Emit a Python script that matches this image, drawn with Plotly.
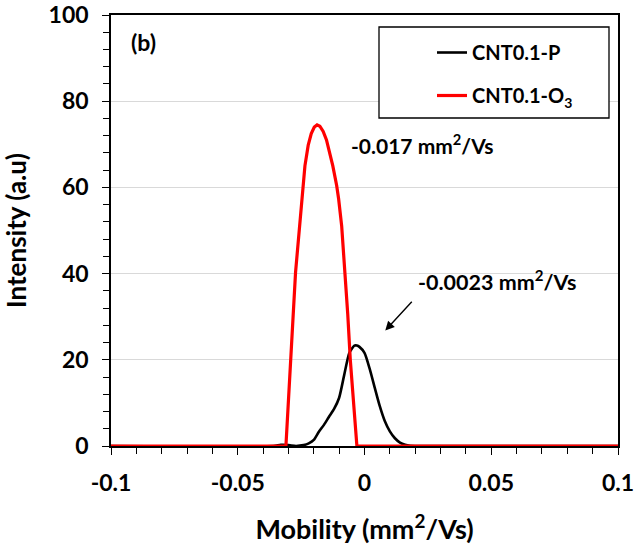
import plotly.graph_objects as go

# Data
p_x = [-0.1, -0.036, -0.033, -0.030, -0.027, -0.024, -0.022, -0.020, -0.018, -0.016, -0.014, -0.012,
       -0.010, -0.008, -0.006, -0.004, -0.003, -0.002, 0.0, 0.002, 0.004, 0.006, 0.008, 0.010,
       0.012, 0.014, 0.016, 0.018, 0.020, 0.1]
p_y = [0, 0, 0.25, 0.2, 0, 0.2, 0.6, 1.4, 3.3, 4.9, 6.8, 8.6,
       11.2, 16.5, 21.6, 23.3, 23.3, 23.0, 21.6, 18.0, 13.6, 9.3, 5.8, 3.4,
       1.8, 0.8, 0.3, 0.05, 0, 0]

o_x = [-0.1, -0.031, -0.0272, -0.0258, -0.0248, -0.0235, -0.0222, -0.0210, -0.0198, -0.0187,
       -0.0176, -0.0163, -0.0150, -0.0141, -0.0125, -0.0110, -0.0102, -0.0090, -0.0076, -0.0066,
       -0.0056, -0.0043, -0.0030, 0.1]
o_y = [0, 0, 40.3, 50.0, 57.3, 65.0, 69.8, 72.5, 74.0, 74.5,
       74.2, 73.0, 71.0, 69.0, 65.0, 60.5, 57.3, 51.0, 40.3, 30.5,
       20.0, 9.0, 0, 0]

FONT = "Lato"

fig = go.Figure()
fig.add_trace(go.Scatter(x=p_x, y=p_y, mode="lines", name="CNT0.1-P",
                         line=dict(color="black", width=2.6, shape="spline", smoothing=0.6),
                         legendgroup="a"))
fig.add_trace(go.Scatter(x=o_x, y=o_y, mode="lines", name="CNT0.1-O<sub>3</sub>",
                         line=dict(color="#ff0000", width=3.2),
                         legendgroup="b"))

axis_common = dict(showline=True, linecolor="black", linewidth=1.5, mirror=True,
                   ticks="outside", ticklen=7, tickwidth=1.2, tickcolor="black",
                   tickfont=dict(family=FONT, size=23, color="black", weight="bold"),
                   zeroline=False, automargin=False)

fig.update_xaxes(range=[-0.1, 0.1], tickvals=[-0.1, -0.05, 0, 0.05, 0.1],
                 ticktext=["-0.1", "-0.05", "0", "0.05", "0.1"], showgrid=False,
                 minor=dict(dtick=0.01, tick0=0, ticks="outside", ticklen=6, tickwidth=1.2,
                            tickcolor="black", showgrid=False),
                 ticklabelstandoff=9,
                 title=dict(text="Mobility (mm<sup>2</sup>/Vs)", standoff=25,
                            font=dict(family=FONT, size=27, color="black", weight="bold")),
                 **axis_common)
fig.update_yaxes(range=[0, 100], tickvals=[0, 20, 40, 60, 80, 100],
                 showgrid=True, gridcolor="#d9d9d9", gridwidth=1.2,
                 minor=dict(dtick=4, tick0=0, ticks="outside", ticklen=6, tickwidth=1.2,
                            tickcolor="black", showgrid=False),
                 ticklabelstandoff=9,
                 title=dict(text="Intensity (a.u)", standoff=15,
                            font=dict(family=FONT, size=26, color="black", weight="bold")),
                 **axis_common)

# Legend frame
fig.add_shape(type="rect", xref="paper", yref="paper",
              x0=(379 - 111) / 507, x1=(609 - 111) / 507,
              y0=(446 - 118) / 431, y1=(446 - 27) / 431,
              line=dict(color="black", width=1.3), fillcolor="white", layer="above")

fig.update_layout(
    width=636, height=545,
    margin=dict(l=111, r=18, t=15, b=99),
    paper_bgcolor="white", plot_bgcolor="white",
    font=dict(family=FONT, color="black"),
    showlegend=True,
    legend=dict(x=(432 - 111) / 507, y=(446 - 33) / 431, xanchor="left", yanchor="top",
                bgcolor="rgba(0,0,0,0)", borderwidth=0, tracegroupgap=14,
                font=dict(family=FONT, size=20, color="black", weight="bold")),
    annotations=[
        dict(x=0.035, y=0.975, xref="paper", yref="paper", text="(b)", showarrow=False,
             xanchor="left", yanchor="top",
             font=dict(family=FONT, size=23, color="black", weight="bold")),
        dict(x=-0.0063, y=70.0, xref="x", yref="y", text="-0.017 mm<sup>2</sup>/Vs", showarrow=False,
             xanchor="left", yanchor="middle",
             font=dict(family=FONT, size=21, color="black", weight="bold")),
        dict(x=0.0205, y=38.5, xref="x", yref="y", text="-0.0023 mm<sup>2</sup>/Vs", showarrow=False,
             xanchor="left", yanchor="middle",
             font=dict(family=FONT, size=21.5, color="black", weight="bold")),
        dict(x=0.0082, y=26.8, ax=0.0192, ay=33.8, xref="x", yref="y", axref="x", ayref="y",
             text="", showarrow=True, arrowhead=2, arrowsize=1.3, arrowwidth=1.4, arrowcolor="black"),
    ],
)

fig.write_html("out.html")
